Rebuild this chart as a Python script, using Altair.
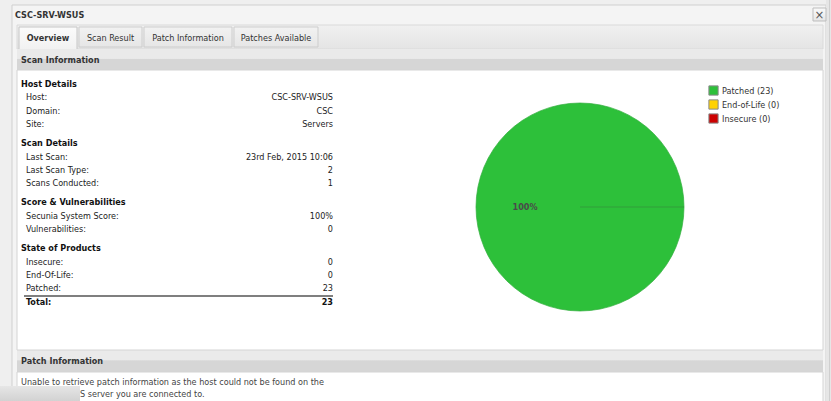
import math
import altair as alt
import pandas as pd

W, H = 831, 401
FONT = "DejaVu Sans Condensed"
FS = 9

# ---------------- data ----------------
window_title = "CSC-SRV-WSUS"
tabs = ["Overview", "Scan Result", "Patch Information", "Patches Available"]
panel_title = "Scan Information"
sections = ["Host Details", "Scan Details", "Score & Vulnerabilities", "State of Products"]
section_labels = [
    ["Host:", "Domain:", "Site:"],
    ["Last Scan:", "Last Scan Type:", "Scans Conducted:"],
    ["Secunia System Score:", "Vulnerabilities:"],
    ["Insecure:", "End-Of-Life:", "Patched:"],
]
section_values = [
    ["CSC-SRV-WSUS", "CSC", "Servers"],
    ["23rd Feb, 2015 10:06", "2", "1"],
    ["100%", "0"],
    ["0", "0", "23"],
]
total_label = "Total:"
total_value = "23"
patch_title = "Patch Information"
patch_msg = ["Unable to retrieve patch information as the host could not be found on the",
             "S server you are connected to."]

categories = ["Patched", "End-of-Life", "Insecure"]
counts = [23, 0, 0]
cat_colors = ["#2DC03A", "#FFD200", "#CC0000"]

# ---------------- layout helpers ----------------
xs = alt.Scale(domain=[0, W], range=[0, W])
ys = alt.Scale(domain=[0, H], range=[0, H])


def rect_layer(rows, fill=None, stroke="transparent", sw=1):
    df = pd.DataFrame(rows, columns=["x", "x2", "y", "y2"])
    kw = {}
    if fill is not None:
        kw["fill"] = fill
    return alt.Chart(df).mark_rect(stroke=stroke, strokeWidth=sw, **kw).encode(
        x=alt.X("x:Q", scale=xs, axis=None), x2="x2:Q",
        y=alt.Y("y:Q", scale=ys, axis=None), y2="y2:Q")


def grad(c1, c2, split=None):
    if split is None:
        stops = [alt.GradientStop(color=c1, offset=0), alt.GradientStop(color=c2, offset=1)]
    else:
        stops = [alt.GradientStop(color=c1, offset=0), alt.GradientStop(color=c1, offset=split),
                 alt.GradientStop(color=c2, offset=split + 0.04), alt.GradientStop(color=c2, offset=1)]
    return alt.Gradient(gradient="linear", stops=stops, x1=0, x2=0, y1=0, y2=1)


def text_layer(rows, align="left", bold=False, color="#222", size=FS):
    df = pd.DataFrame(rows, columns=["x", "y", "t"])
    return alt.Chart(df).mark_text(align=align, baseline="middle", font=FONT, fontSize=size,
                                   fontWeight="bold" if bold else "normal", color=color).encode(
        x=alt.X("x:Q", scale=xs, axis=None), y=alt.Y("y:Q", scale=ys, axis=None), text="t:N")


# ---------------- chrome ----------------
layers = []
layers.append(rect_layer([(0, W, 0, H)], fill="#EFEFEF"))
layers.append(rect_layer([(12, 826, 5, H + 2)], fill="#F4F4F4", stroke="#CFCFCF"))
layers.append(rect_layer([(826, 831, 0, H)], fill="#E6E6E6"))
layers.append(rect_layer([(829, 830, 0, H)], fill="#CFCFCF"))
# tab strip
layers.append(rect_layer([(17, 823, 25, 49)], fill=grad("#F0F0F0", "#E4E4E4"), stroke="#DADADA"))
tab_x = [(19, 77), (79, 142), (144, 232), (234, 318)]
layers.append(rect_layer([tab_x[0] + (27, 50)], fill=grad("#FBFBFB", "#F1F1F1"), stroke="#C6C6C6"))
layers.append(rect_layer([tx + (27, 47) for tx in tab_x[1:]], fill=grad("#F2F2F2", "#E6E6E6"), stroke="#CDCDCD"))
# panel header bars
layers.append(rect_layer([(17, 823, 49, 70), (17, 823, 350, 372)], fill=grad("#EAEAEA", "#D6D6D6", 0.45)))
# content areas
layers.append(rect_layer([(17, 823, 70, 350)], fill="#FFFFFF", stroke="#D4D4D4"))
layers.append(rect_layer([(17, 823, 372, H + 2)], fill="#FFFFFF", stroke="#D4D4D4"))
# close box
layers.append(rect_layer([(813, 826, 8, 21)], fill=grad("#FAFAFA", "#E6E6E6"), stroke="#BDBDBD"))

# texts
layers.append(text_layer([(15, 15, window_title), (21, 60, panel_title), (21, 361, patch_title)],
                         bold=True, color="#333"))
layers.append(text_layer([(819.5, 14.5, "×")], align="center", color="#555", size=13))
layers.append(text_layer([((tab_x[0][0] + tab_x[0][1]) / 2, 38, tabs[0])], align="center", bold=True, color="#333"))
layers.append(text_layer([((a + b) / 2, 38, t) for (a, b), t in zip(tab_x[1:], tabs[1:])],
                         align="center", color="#333"))

head_rows, lab_rows, val_rows = [], [], []
y = 84.0
for s, labs, vals in zip(sections, section_labels, section_values):
    head_rows.append((21, y, s))
    for lab, val in zip(labs, vals):
        y += 13.4
        lab_rows.append((26, y, lab))
        val_rows.append((333, y, val))
    y += 19
total_y = y - 19 + 13.4
head_rows.append((26, total_y, total_label))
layers.append(text_layer(head_rows, bold=True, color="#111"))
layers.append(text_layer(lab_rows, color="#222"))
layers.append(text_layer(val_rows, align="right", color="#222"))
layers.append(text_layer([(333, total_y, total_value)], align="right", bold=True, color="#111"))
layers.append(rect_layer([(24, 333, 295.5, 296.5)], fill="#000000"))

layers.append(text_layer([(21, 382, patch_msg[0]), (80, 394, patch_msg[1])], color="#444"))
# overlapping bar bottom-left
layers.append(rect_layer([(0, 80, 386, H)], fill=grad("#E6E6E6", "#D2D2D2")))

# ---------------- pie ----------------
pie_df = pd.DataFrame({"cat": categories, "n": counts})
pie_df["label"] = [f"{c} ({n})" for c, n in zip(categories, counts)]
legend_domain = list(pie_df["label"])
total = sum(counts)
pie_df["pct"] = [f"{round(100 * n / total)}%" for n in counts]
pie_df["order"] = list(range(len(categories)))

theta = alt.Theta("n:Q", stack=True, scale=alt.Scale(range=[math.pi / 2, math.pi / 2 + 2 * math.pi]))
color = alt.Color("label:N", scale=alt.Scale(domain=legend_domain, range=cat_colors),
                  sort=legend_domain,
                  legend=alt.Legend(title=None, orient="none", legendX=708, legendY=85,
                                    symbolType="square", symbolSize=85, symbolStrokeColor="#8A8A8A",
                                    symbolStrokeWidth=1, symbolOpacity=1, labelFont=FONT, labelFontSize=FS,
                                    labelColor="#333", rowPadding=-1, labelOffset=3))

pie = alt.Chart(pie_df).mark_arc(outerRadius=104, stroke="#31AE3C", strokeWidth=0.7).encode(
    theta=theta, color=color, order=alt.Order("order:Q"),
    x=alt.value(580), y=alt.value(207))
pie_lbl = alt.Chart(pie_df).transform_filter("datum.n > 0").mark_text(
    radius=55, font=FONT, fontSize=FS, fontWeight="bold", color="#4A4A4A").encode(
    theta=theta, text="pct:N", order=alt.Order("order:Q"),
    x=alt.value(580), y=alt.value(207))
layers += [pie, pie_lbl]

chart = alt.layer(*layers).properties(
    width=W, height=H, autosize=alt.AutoSizeParams(type="none"), padding=0, background="#FFFFFF"
).configure_view(stroke=None)

chart.save("out.html", embed_options={"renderer": "svg", "actions": False})
